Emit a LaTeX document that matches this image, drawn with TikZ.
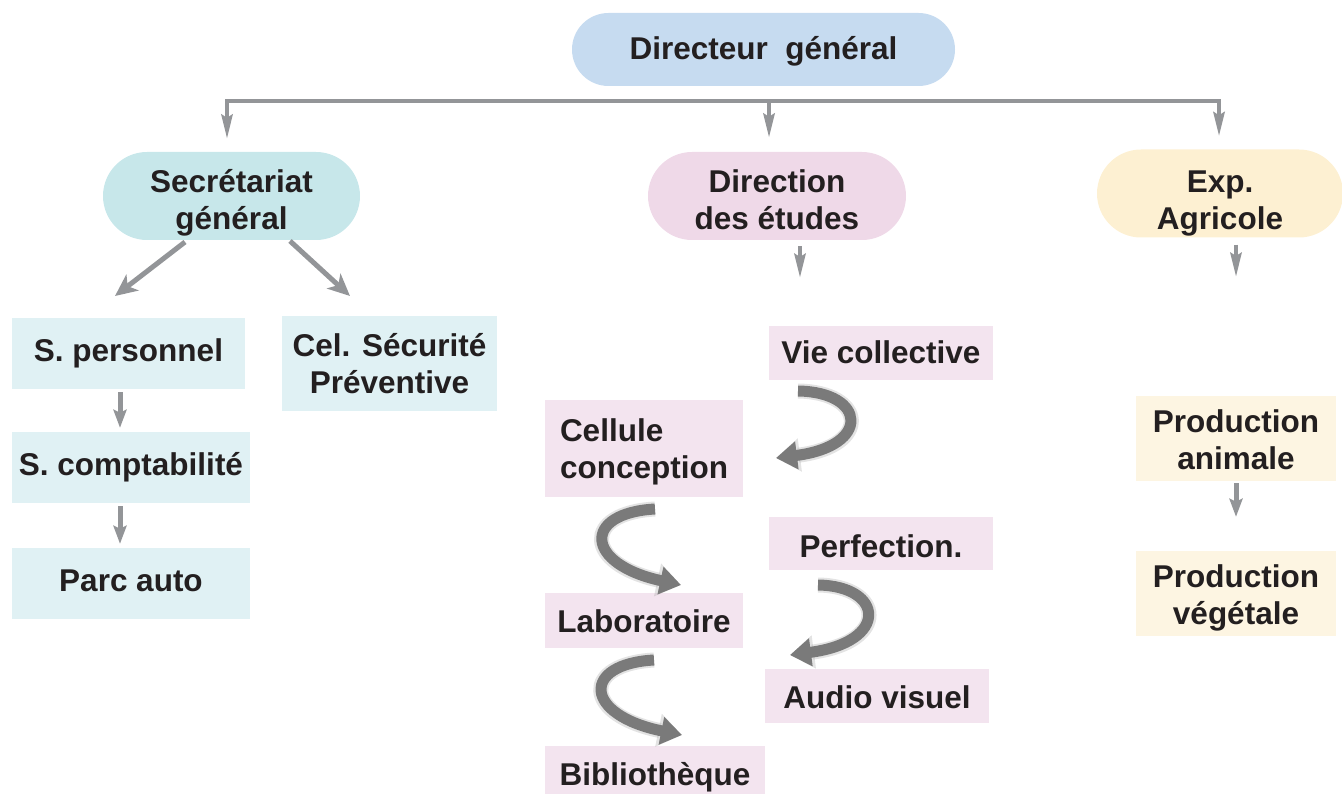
\documentclass[tikz,border=0pt]{standalone}
\usepackage{fontspec}
\setmainfont{Liberation Sans}
\usetikzlibrary{arrows.meta,shapes.misc,calc}
\definecolor{ink}{HTML}{231F20}
\definecolor{linegray}{HTML}{939598}
\definecolor{curvegray}{HTML}{7A7A7A}
\definecolor{dgblue}{HTML}{C6DBF0}
\definecolor{sgteal}{HTML}{C7E7EA}
\definecolor{sgbox}{HTML}{E0F1F4}
\definecolor{depink}{HTML}{EFD9E8}
\definecolor{debox}{HTML}{F3E4EF}
\definecolor{eayellow}{HTML}{FDF0D2}
\definecolor{eabox}{HTML}{FDF5E2}
\begin{document}
\begin{tikzpicture}[x=1pt,y=-1pt,
  lbl/.style={font=\fontsize{31.5}{37}\selectfont\bfseries, text=ink, align=center, inner sep=0pt, text depth=0pt},
  th/.style={text height=#1},
  pill/.style={lbl, rounded rectangle},
  box/.style={lbl, rectangle},
  topline/.style={draw=linegray, line width=4.5pt, line join=miter,
    {Stealth[length=24pt,width=11pt,inset=3pt]}-{Stealth[length=24pt,width=11pt,inset=3pt]}},
  droparrow/.style={draw=linegray, line width=4.5pt, -{Stealth[length=24pt,width=11pt,inset=3pt]}},
  smallarrow/.style={draw=linegray, line width=5pt, -{Stealth[length=18pt,width=13pt,inset=3pt]}},
  diagarrow/.style={draw=linegray, line width=5pt, -{Stealth[length=22pt,width=20pt,inset=6pt]}},
  turnarrow/.style={draw=curvegray, line width=11pt, -{Triangle[width=27pt,length=21pt]},
    preaction={draw=curvegray!70, line width=15pt, opacity=0.3, -{Triangle[width=32pt,length=24pt]}}}
]
\useasboundingbox (0,0) rectangle (1342,794);

% top level
\node[pill, th=19.6pt, fill=dgblue, minimum width=383pt, minimum height=73pt] (dg) at (763.5,49.5) {Directeur~ général};

% second level
\node[pill, th=66.6pt, fill=sgteal, minimum width=257pt, minimum height=88pt] (sg) at (231.5,196) {Secrétariat\\général};
\node[pill, th=66.6pt, fill=depink, minimum width=258pt, minimum height=88pt] (de) at (777,196) {Direction\\des études};
\node[pill, th=72.6pt, fill=eayellow, minimum width=246pt, minimum height=88pt] (ea) at (1220,193.5) {Exp.\\Agricole};

% distribution bar
\coordinate (barL) at (227,101);
\coordinate (barM) at (769,101);
\coordinate (barR) at (1219,101);
\draw[topline, shorten <=13pt, shorten >=13pt] (barL |- sg.north) -- (barL) -- (barR) -- (barR |- ea.north);
\draw[droparrow, shorten >=14pt] (barM) -- (barM |- de.north);

% secretariat branch
\node[box, th=16pt, fill=sgbox, minimum width=233pt, minimum height=71pt] (sp) at (128.5,353.5) {S. personnel};
\node[box, th=16pt, fill=sgbox, minimum width=238pt, minimum height=71pt] (sc) at (131,467.5) {S. comptabilité};
\node[box, th=16pt, fill=sgbox, minimum width=238pt, minimum height=71pt] (pa) at (131,583.5) {Parc auto};
\node[box, th=60pt, fill=sgbox, minimum width=215pt, minimum height=95pt] (cs) at (389.5,363.5) {Cel. Sécurité\\Préventive};

\coordinate (sgL) at (185,242);
\coordinate (spTop) at (115,296);
\coordinate (sgR) at (290,241);
\coordinate (csTop) at (350,296);
\draw[diagarrow] (sgL) -- (spTop);
\draw[diagarrow] (sgR) -- (csTop);
\draw[smallarrow, shorten <=3pt, shorten >=4pt] (sp.south -| 120,0) -- (sc.north -| 120,0);
\draw[smallarrow, shorten <=3pt, shorten >=4pt] (sc.south -| 120,0) -- (pa.north -| 120,0);

% studies branch
\node[box, th=20.6pt, fill=debox, minimum width=224pt, minimum height=54pt] (vc) at (881,353) {Vie collective};
\node[box, th=59.6pt, fill=debox, minimum width=198pt, minimum height=97pt, align=left] (cc) at (644,448.5) {Cellule\\conception};
\node[box, th=27pt, fill=debox, minimum width=224pt, minimum height=53pt] (pf) at (881,543.5) {Perfection.};
\node[box, th=23.6pt, fill=debox, minimum width=198pt, minimum height=55pt] (lab) at (644,620.5) {Laboratoire};
\node[box, th=24.6pt, fill=debox, minimum width=224pt, minimum height=54pt] (av) at (877,696) {Audio visuel};
\node[box, th=24pt, fill=debox, minimum width=220pt, minimum height=54pt] (bib) at (655,773) {Bibliothèque};

\coordinate (deDrop) at (800,278);
\draw[droparrow] (de.south -| deDrop) ++(0,6) -- (deDrop);

\coordinate (t1s) at (798,391);
\coordinate (t1e) at (776,458);
\draw[turnarrow] (t1s) .. controls (866,392) and (872,446) .. (t1e);
\coordinate (t2s) at (655,509);
\coordinate (t2e) at (681,585);
\draw[turnarrow] (t2s) .. controls (582,513) and (584,564) .. (t2e);
\coordinate (t3s) at (818,585);
\coordinate (t3e) at (790,655);
\draw[turnarrow] (t3s) .. controls (884,586) and (890,642) .. (t3e);
\coordinate (t4s) at (654,660);
\coordinate (t4e) at (682,735);
\draw[turnarrow] (t4s) .. controls (581,664) and (583,715) .. (t4e);

% agricultural branch
\node[box, th=61pt, fill=eabox, minimum width=200pt, minimum height=85pt] (pan) at (1236,438.5) {Production\\animale};
\node[box, th=61pt, fill=eabox, minimum width=200pt, minimum height=85pt] (pve) at (1236,593.5) {Production\\végétale};

\coordinate (eaDrop) at (1236,277);
\draw[droparrow] (ea.south -| eaDrop) ++(0,7) -- (eaDrop);
\draw[smallarrow, shorten <=2pt, shorten >=34pt] (pan.south) -- (pve.north);
\end{tikzpicture}
\end{document}
